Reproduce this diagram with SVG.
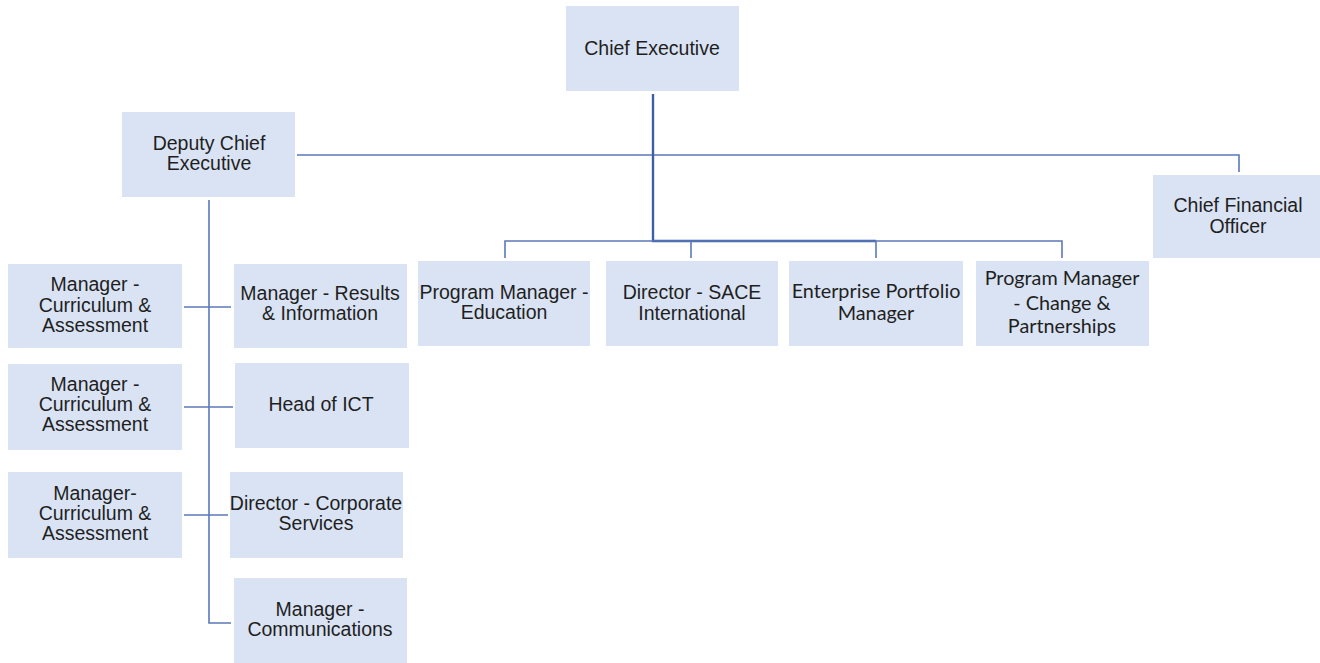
<svg xmlns="http://www.w3.org/2000/svg" width="1320" height="663" viewBox="0 0 1320 663">
<style>
.box{fill:#dae3f3;}
.t{font-family:"Liberation Sans",Arial,sans-serif;font-size:19.5px;fill:#1f1f1f;text-anchor:middle;}
.c{font-family:Lato,"Liberation Sans",sans-serif;font-size:19.8px;fill:#1f1f1f;text-anchor:middle;}
.ln{fill:none;stroke:#5a78b8;stroke-width:1.6;}
.lk{fill:none;stroke:#3d5fa3;stroke-width:2.4;}
</style>
<rect width="1320" height="663" fill="#ffffff"/>
<g id="connectors">
<path class="ln" d="M297 155 H1239 V172"/>
<path class="lk" d="M653 94 V241 H876"/>
<path class="ln" d="M505 258 V241 H1062 V258"/>
<path class="ln" d="M691 241 V258"/>
<path class="ln" d="M876 241 V258"/>
<path class="ln" d="M209 200 V623 H231"/>
<path class="ln" d="M184 307 H231"/>
<path class="ln" d="M184 407 H233"/>
<path class="ln" d="M184 515 H228"/>
</g>
<g id="chief-executive"><rect class="box" x="566" y="6" width="173" height="85"/><text class="t" x="652" y="55">Chief Executive</text></g>
<g id="deputy-chief-executive"><rect class="box" x="122" y="112" width="173" height="85"/><text class="t" x="209" y="150">Deputy Chief</text><text class="t" x="209" y="170">Executive</text></g>
<g id="chief-financial-officer"><rect class="box" x="1153" y="175" width="167" height="83"/><text class="t" x="1238" y="212">Chief Financial</text><text class="t" x="1238" y="233">Officer</text></g>
<g id="pm-education"><rect class="box" x="418" y="261" width="172" height="85"/><text class="t" x="504" y="299">Program Manager -</text><text class="t" x="504" y="319">Education</text></g>
<g id="director-sace"><rect class="box" x="606" y="261" width="172" height="85"/><text class="t" x="692" y="299">Director - SACE</text><text class="t" x="692" y="320">International</text></g>
<g id="enterprise-portfolio"><rect class="box" x="789" y="261" width="174" height="85"/><text class="c" x="876" y="298">Enterprise Portfolio</text><text class="c" x="876" y="320">Manager</text></g>
<g id="pm-change"><rect class="box" x="976" y="261" width="173" height="85"/><text class="c" x="1062" y="285">Program Manager</text><text class="c" x="1062" y="310">- Change &amp;</text><text class="c" x="1062" y="333">Partnerships</text></g>
<g id="mgr-ca-1"><rect class="box" x="8" y="264" width="174" height="84"/><text class="t" x="95" y="291">Manager -</text><text class="t" x="95" y="312">Curriculum &amp;</text><text class="t" x="95" y="332">Assessment</text></g>
<g id="mgr-results"><rect class="box" x="234" y="264" width="173" height="84"/><text class="t" x="320" y="300">Manager - Results</text><text class="t" x="320" y="320">&amp; Information</text></g>
<g id="mgr-ca-2"><rect class="box" x="8" y="364" width="174" height="86"/><text class="t" x="95" y="391">Manager -</text><text class="t" x="95" y="411">Curriculum &amp;</text><text class="t" x="95" y="431">Assessment</text></g>
<g id="head-ict"><rect class="box" x="235" y="363" width="174" height="85"/><text class="t" x="321" y="411">Head of ICT</text></g>
<g id="mgr-ca-3"><rect class="box" x="8" y="472" width="174" height="86"/><text class="t" x="95" y="500">Manager-</text><text class="t" x="95" y="520">Curriculum &amp;</text><text class="t" x="95" y="540">Assessment</text></g>
<g id="director-corporate"><rect class="box" x="230" y="472" width="173" height="86"/><text class="t" x="316" y="510">Director - Corporate</text><text class="t" x="316" y="530">Services</text></g>
<g id="mgr-communications"><rect class="box" x="234" y="578" width="173" height="85"/><text class="t" x="320" y="616">Manager -</text><text class="t" x="320" y="636">Communications</text></g>
</svg>
